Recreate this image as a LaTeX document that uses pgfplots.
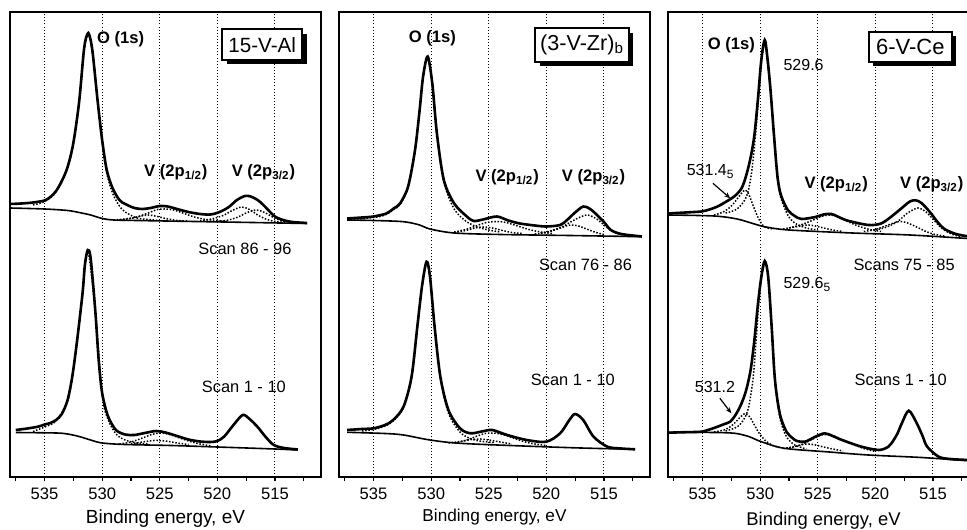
\documentclass[border=0pt]{standalone}
\usepackage{fontspec}
\setmainfont{Liberation Sans}
\usepackage{pgfplots}
\pgfplotsset{compat=1.18}
\usetikzlibrary{shadows,arrows.meta}

\newcommand{\fs}[1]{\fontsize{#1}{#1}\selectfont}

\pgfplotsset{
  xps/.style={
    scale only axis, width=155.5pt, height=232.5pt,
    xmin=511, xmax=538, x dir=reverse,
    ymin=0, ymax=465, ytick=\empty,
    xtick={512.5,515,517.5,520,522.5,525,527.5,530,532.5,535,537.5},
    xticklabels={,515,,520,,525,,530,,535,},
    xtick pos=bottom, tick align=outside,
    major tick length=1.8pt,
    tick style={black, line width=0.6pt},
    extra x ticks={515,520,525,530,535},
    extra x tick labels={},
    extra x tick style={grid=major},
    major grid style={black, line width=0.45pt, dash pattern=on 0.45pt off 1.1pt},
    axis line style={line width=0.95pt},
    ticklabel style={font=\fs{8.3}},
    /pgf/number format/assume math mode=true,
    xlabel={Binding energy, eV},
  },
  env/.style={black, line width=1.3pt, smooth, tension=0.5, mark=none},
  bg/.style={black, line width=0.8pt, smooth, tension=0.5, mark=none},
  comp/.style={black, line width=0.75pt, dash pattern=on 0.75pt off 0.85pt, smooth, tension=0.5, mark=none},
}
\tikzset{
  pk/.style={font=\bfseries\fs{8.3}, anchor=base, inner sep=0pt},
  sc/.style={font=\fs{8.2}, anchor=base, inner sep=0pt},
  val/.style={font=\fs{8}, anchor=base west, inner sep=0pt},
  tag/.style={draw=black, line width=0.9pt, fill=white, inner sep=0pt,
    drop shadow={shadow xshift=2.2pt, shadow yshift=-2.2pt, fill=black, opacity=1}},
}

\begin{document}
\begin{tikzpicture}
\useasboundingbox (0,0) rectangle (483.5pt,264.5pt);

% ---------------- 15-V-Al ----------------
\begin{axis}[xps, at={(5pt,26pt)}, anchor=south west,
  xlabel style={at={(axis description cs:0.5,0)}, anchor=base, yshift=-23.2pt, font=\fs{9.5}}]
% Scan 86 - 96
\addplot[comp] coordinates {(536,272)(535,275.5)(534,285)(533,309)(532.5,333)(532,374)(531.6,424)(531.2,443)(530.8,421)(530.4,376)(530,335)(529.6,304)(529.1,284)(528.5,271)(528,265)(527,259)(526,257.5)(525,256.5)};
\addplot[comp] coordinates {(529,257)(528,258)(527,260)(526,264)(525.2,267.5)(524.5,268)(523.8,267)(523,264)(522,260)(521,257.5)(520,256.5)(519,255.5)};
\addplot[comp] coordinates {(528.5,257)(527.5,258.5)(526.8,260.5)(526,262)(525.2,260.5)(524.5,258.5)(523.5,256.5)(522.5,256)};
\addplot[comp] coordinates {(521.5,256)(520.5,258)(519.5,261.5)(518.7,266.5)(517.9,270)(517.2,267.5)(516.5,262)(515.8,258)(515,255.5)(514,254.5)};
\addplot[comp] coordinates {(520,255.5)(519,257)(518.2,260)(517.4,264.5)(516.6,267)(515.9,264.5)(515.2,260)(514.5,256.5)(513.8,255)(513,254)};
\addplot[bg] coordinates {(538,269)(535,268)(533,266.5)(532,264.5)(531,262)(530,258.5)(529,257)(527,256.5)(522,255.5)(517,254.5)(512.2,253.5)};
\addplot[env] coordinates {(538,273)(537,273.5)(536,274.5)(535,276.5)(534.5,280)(534,286)(533.5,296)(533,310)(532.5,334)(532,375)(531.6,425)(531.4,439)(531.2,444)(531,437)(530.8,422)(530.4,377)(530,337)(529.6,307)(529.1,289)(528.5,277)(528,273)(527.2,269)(526.5,268)(525.8,269)(525,271)(524.3,270.5)(523.5,268)(522.5,265)(521.5,263)(520.6,262.5)(519.8,265)(519,270)(518.3,277)(517.6,281)(517.1,280.5)(516.5,277)(516,272)(515.5,266)(515,260.5)(514.3,257)(513.5,255)(512.2,254)};
% Scan 1 - 10
\addplot[comp] coordinates {(536,45.5)(535,50)(534,56)(533,76)(532.6,99)(532.2,133)(531.7,183)(531.25,226)(530.6,166)(530,82)(529.5,58)(528.8,43)(528,37)(527,34)(526,33)};
\addplot[comp] coordinates {(528.5,33)(527.5,35)(526.5,39)(525.7,42.5)(525,44)(524.3,43)(523.5,40)(522.5,36)(521.5,33)(520.5,31)};
\addplot[comp] coordinates {(527.5,33)(526.5,35)(525.5,36.5)(524.5,36)(523.5,34)(522.5,32.5)};
\addplot[bg] coordinates {(537.5,44.5)(534,44)(533,43)(532,40.5)(531,37)(530,34)(528,32.5)(524,31.5)(520,30)(515,28)(513,27)};
\addplot[env] coordinates {(537.5,47)(536.5,48.5)(535.5,50.5)(535,52.5)(534.5,54)(534,57)(533.5,63)(533,77)(532.6,100)(532.2,134)(531.7,184)(531.5,212)(531.25,227)(531,219)(530.6,167)(530.3,117)(530,84)(529.5,61)(528.8,47)(528,42.5)(527.2,42)(526.3,44)(525.3,46)(524.5,44.5)(523.5,41)(522.5,37.5)(521.5,35.5)(520.6,35)(520,36)(519.4,40.5)(518.6,52)(517.8,62)(517.2,58)(516.5,50)(515.8,40)(515.1,32)(514.2,29)(513,27.5)};
\node[pk] at (axis cs:528.4,433.7) {O (1s)};
\node[pk] at (axis cs:523.6,300) {V (2p\textsubscript{1/2})};
\node[pk] at (axis cs:516.0,300) {V (2p\textsubscript{3/2})};
\node[sc] at (axis cs:517.6,222) {Scan 86 - 96};
\node[sc] at (axis cs:517.7,84.3) {Scan 1 - 10};
\node[tag, minimum width=40pt, minimum height=15.3pt, font=\fs{10.3}] at (axis cs:516.1,432.3) {15-V-Al};
\end{axis}

% ---------------- (3-V-Zr)b ----------------
\begin{axis}[xps, at={(169.5pt,26pt)}, anchor=south west,
  xlabel style={at={(axis description cs:0.5,0)}, anchor=base, yshift=-22.3pt, font=\fs{8.6}}]
% Scan 76 - 86
\addplot[comp] coordinates {(537,257.5)(535,259.5)(534,262)(533.2,268)(532.7,272.5)(532,289.5)(531.4,326)(531,366)(530.7,399.5)(530.3,419.5)(529.9,392)(529.5,342)(528.9,295)(528,268)(527,256)(526,250)(525,247)(524,245)};
\addplot[comp] coordinates {(528,245)(527,247.5)(526,251.5)(525.2,254.5)(524.3,255.5)(523.5,254.5)(522.5,251)(521.5,247.5)(520.5,245)(519.5,243.5)};
\addplot[comp] coordinates {(528,244.5)(527,246.5)(526.2,249)(525.5,250)(524.7,249)(523.8,246.5)(523,244.5)(522,243.5)};
\addplot[comp] coordinates {(520.5,244)(519.5,246.5)(518.5,251)(517.5,257.5)(516.5,262)(515.7,258.5)(515,252)(514.3,246)(513.5,242.5)(512.5,241)};
\addplot[comp] coordinates {(521,243)(520,244.5)(519,248)(518.3,251)(517.8,252)(517.2,251)(516.5,248)(515.7,244.5)(515,242.5)};
\addplot[bg] coordinates {(537.3,257)(535,256.5)(532.4,255.3)(531,252)(530.1,248)(528,244)(524,242.5)(518,241.5)(511.7,240.3)};
\addplot[env] coordinates {(537.3,258.5)(536,259.5)(535,260.5)(533.9,263.5)(533.2,269)(532.7,273.5)(532,290.5)(531.4,327)(531,367)(530.7,400.5)(530.3,420.5)(529.9,393.5)(529.5,343.5)(528.9,297)(528,273.5)(526.9,260.5)(526.3,256)(525.5,257.5)(524.3,260.5)(523.3,256.5)(522.3,253.5)(521,251.5)(520,250.5)(518.8,252)(518.2,257)(517.6,263.5)(516.8,270.5)(516.2,268)(515.6,262)(515,255)(514.4,247)(513.5,243)(511.7,240.5)};
% Scan 1 - 10
\addplot[comp] coordinates {(536,46)(535,47.5)(534,51)(533.3,56)(532.4,69)(531.7,99)(531.2,149)(530.8,189)(530.4,214)(530.1,199)(529.7,149)(529.2,99)(528.5,64)(527.5,45)(526.5,38)(525.5,35.5)(524.5,34.5)};
\addplot[comp] coordinates {(528,34)(527,36.5)(526,41)(525.3,43.5)(524.6,44)(523.8,42.5)(523,39.5)(522,35.5)(521,33)(520,31.5)};
\addplot[comp] coordinates {(528.5,34)(527.5,35.5)(526.5,37.5)(525.7,38)(525,37)(524,35)(523,33)};
\addplot[bg] coordinates {(537.3,44.7)(534,43.5)(532.4,42)(530.1,37)(527.5,33.7)(522,31)(517,29)(512.3,27.7)};
\addplot[env] coordinates {(537.3,47)(536,48)(535,48.7)(534,52)(533.3,57)(532.4,70.3)(531.7,100.3)(531.2,150.3)(530.8,190.3)(530.4,215.3)(530.1,200.3)(529.7,150.3)(529.2,100.3)(528.5,67)(527.5,48.7)(526.6,43.7)(525.6,45.5)(524.7,47)(523.4,42)(521.7,37)(520,35.3)(518.8,43.7)(518,57)(517.5,63)(516.8,57)(515.9,40.3)(514.7,30.3)(513.5,28.5)(512.3,27.7)};
\node[pk] at (axis cs:529.9,434.3) {O (1s)};
\node[pk] at (axis cs:523.4,295.3) {V (2p\textsubscript{1/2})};
\node[pk] at (axis cs:515.9,295.3) {V (2p\textsubscript{3/2})};
\node[sc] at (axis cs:516.6,206.3) {Scan 76 - 86};
\node[sc] at (axis cs:517.7,91) {Scan 1 - 10};
\node[tag, minimum width=46.7pt, minimum height=16.7pt, font=\fs{10.8}] at (axis cs:516.9,432) {(3-V-Zr)\textsubscript{b}};
\end{axis}

% ---------------- 6-V-Ce ----------------
\begin{axis}[xps, at={(334pt,26pt)}, anchor=south west,
  xlabel style={at={(axis description cs:0.5,0)}, anchor=base, yshift=-24pt, font=\fs{9.2}}]
% Scans 75 - 85
\addplot[comp] coordinates {(533,264)(532,268)(531.2,280)(530.8,300)(530.5,330)(530.2,370)(529.9,414)(529.6,435)(529.35,415)(529.1,385)(528.8,340)(528.5,299)(528.2,279)(527.6,262)(527,254)(526,249)(525,247)};
\addplot[comp] coordinates {(534,262)(533.2,265)(532.5,271)(532,278)(531.6,284)(531.3,287)(531,283)(530.6,271)(530.2,260)(529.8,252)(529.4,249)(528.8,248)};
\addplot[comp] coordinates {(527.5,249)(526.5,252)(525.5,256.5)(524.7,260.5)(523.9,262)(523.2,260)(522.4,255.5)(521.5,251)(520.5,247.5)(519.5,245.5)};
\addplot[comp] coordinates {(528,248)(527,250)(526.3,251.5)(525.8,252)(525.2,251)(524.5,249)(523.7,247)(522.8,245.5)};
\addplot[comp] coordinates {(520,247)(519,250)(518,256)(517.2,264)(516.3,269)(515.6,265)(515,258)(514.3,249.5)(513.5,243.5)(512.5,240)};
\addplot[comp] coordinates {(521,245.5)(520,247.5)(519,251.5)(518.3,254.5)(517.8,255.5)(517.2,254)(516.5,250.5)(515.7,246)(515,243)(514,241)};
\addplot[bg] coordinates {(538,262)(534,261)(532,258)(530.5,253)(529.5,250)(527.5,247)(522,244)(517,242)(512,238.5)};
\addplot[env] coordinates {(538,263.5)(536.5,264.5)(535.1,265.5)(534.4,267.5)(533.7,270.5)(533,275)(532.2,281)(531.6,289)(531.2,302)(530.8,321)(530.5,342)(530.2,377)(529.9,417)(529.6,437)(529.35,417)(529.1,387)(528.8,342)(528.5,301)(528.2,282)(527.6,267)(527,261)(526.4,258)(525.2,260)(524.5,262.5)(523.8,263)(523,259)(522.3,256)(520.6,252)(519.5,253.5)(518.6,260.5)(517.7,269)(517,275.5)(516.5,276.7)(516,274)(515.3,265.5)(514.6,255)(514,248)(513,243)(511.9,240.5)};
% Scans 1 - 10
\addplot[comp] coordinates {(533,46)(532,50)(531.4,58)(531,70)(530.6,100)(530.3,145)(530,190)(529.6,214)(529.3,198)(529,148)(528.75,100)(528.5,74)(528.2,55)(527.7,40)(527,32)(526,28)};
\addplot[comp] coordinates {(534,45)(533,47.5)(532.3,53)(531.8,59)(531.3,63.5)(530.9,60)(530.5,52)(530.1,44)(529.6,37)(529,32)(528.3,29.5)};
\addplot[comp] coordinates {(527.5,29)(526.5,32)(525.5,37.5)(524.8,41.5)(524.3,42.5)(523.6,41)(522.8,37)(522,33)(521,28.5)(520,25.5)};
\addplot[comp] coordinates {(528,28.5)(527,30.5)(526.3,32.5)(525.8,33)(525.2,32)(524.5,30)(523.7,28)(522.8,26)};
\addplot[bg] coordinates {(538,44.7)(534,44.5)(532.2,43.7)(531,40.5)(529.9,35.3)(527.9,28.7)(524,25)(520.6,22)(516,19.5)(512,16.3)};
\addplot[env] coordinates {(538,44.3)(536.5,44.8)(535.1,45.3)(534.4,47.5)(533.7,50.3)(533.1,53)(532.6,55.3)(532.2,61)(531.8,69)(531.4,80)(531.1,92)(530.8,109)(530.5,137)(530.2,172)(529.9,200)(529.6,216)(529.3,200)(529,150)(528.75,102)(528.5,77)(528.2,59)(527.7,45)(527.2,39)(526.8,36)(526.1,35.3)(525.2,40.3)(524.4,43.7)(523.7,41)(522.9,37)(521.2,30.3)(519.7,27)(518.9,30)(518.6,33.7)(518.1,43)(517.7,53.7)(517.1,66.3)(516.4,53.7)(515.9,41)(515.5,30.3)(514.5,20.3)(513.5,18)(511.9,17)};
\node[pk] at (axis cs:532.5,427) {O (1s)};
\node[pk] at (axis cs:523.4,288.7) {V (2p\textsubscript{1/2})};
\node[pk] at (axis cs:515.1,288.7) {V (2p\textsubscript{3/2})};
\node[sc] at (axis cs:517.5,206.3) {Scans 75 - 85};
\node[sc] at (axis cs:517.8,91) {Scans 1 - 10};
\node[val] at (axis cs:528.0,406) {529.6};
\node[val] at (axis cs:528.0,188.7) {529.6\textsubscript{5}};
\node[val] at (axis cs:536.4,301) {531.4\textsubscript{5}};
\node[val] at (axis cs:535.7,84.3) {531.2};
\draw[line width=0.6pt, -{Stealth[length=3pt,width=2.4pt]}] (axis cs:534.1,293.7) -- (axis cs:532.6,278.7);
\draw[line width=0.6pt, -{Stealth[length=3pt,width=2.4pt]}] (axis cs:533.5,78.7) -- (axis cs:532.5,63.7);
\node[tag, minimum width=41.7pt, minimum height=15pt, font=\fs{11}] at (axis cs:516.96,430.3) {6-V-Ce};
\end{axis}
\end{tikzpicture}
\end{document}
